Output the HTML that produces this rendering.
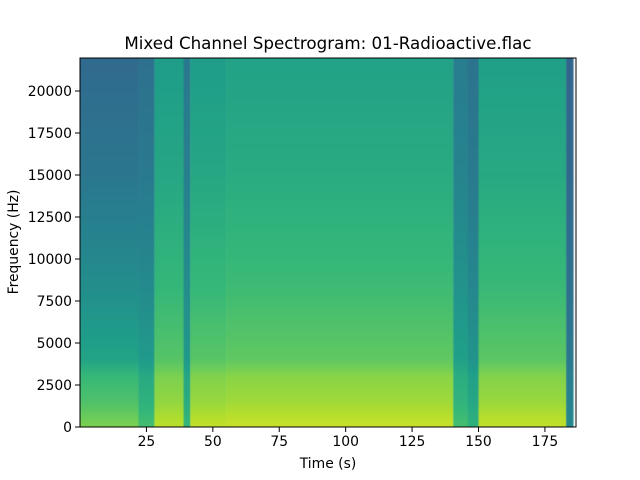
<!DOCTYPE html>
<html><head><meta charset="utf-8"><style>
body{margin:0;background:#fff;}
#wrap{position:relative;width:640px;height:480px;font-family:"DejaVu Sans","Liberation Sans",sans-serif;color:#000;}
canvas{position:absolute;left:80px;top:58px;}
svg{position:absolute;left:0;top:0;}
</style></head><body>
<div id="wrap">
<canvas id="spec" width="496" height="369"></canvas>
<svg id="ax" width="640" height="480"></svg>
</div>
<script>
// time segment data: start time (s), top-frequency level, low-frequency level (viridis 0..1)
const segStart = [0, 22, 28, 39, 41.5, 55, 140.5, 146, 150, 183, 185.6];
const segTop   = [0.34, 0.37, 0.55, 0.40, 0.55, 0.57, 0.42, 0.38, 0.56, 0.32, 0.32];
const segLow   = [0.80, 0.70, 0.90, 0.66, 0.91, 0.92, 0.70, 0.64, 0.91, 0.47, 0.47];
const profFreq = [0, 500, 1500, 3000, 4000, 8000, 15000, 22050];
const profW    = [1, 0.95, 0.82, 0.72, 0.52, 0.34, 0.12, 0];
const xTicks = [25, 50, 75, 100, 125, 150, 175];
const yTicks = [0, 2500, 5000, 7500, 10000, 12500, 15000, 17500, 20000];

const L=80,T=58,W=496,H=369, tMax=186.7, fMax=21964, tEnd=185.6;
const xs=t=>L+t/tMax*W, ys=f=>T+H-f/fMax*H;
const vir=[[68,1,84],[72,40,120],[62,74,137],[49,104,142],[38,130,142],[31,158,137],[53,183,121],[109,205,89],[180,222,44],[253,231,37]];
function cmap(v){v=Math.max(0,Math.min(1,v));const p=v*9,i=Math.min(8,Math.floor(p)),r=p-i;const a=vir[i],b=vir[i+1];return `rgb(${a.map((c,k)=>Math.round(c+(b[k]-c)*r)).join(',')})`;}
function prof(f){for(let i=0;i<profFreq.length-1;i++){if(f<=profFreq[i+1]){const r=(f-profFreq[i])/(profFreq[i+1]-profFreq[i]);return profW[i]+(profW[i+1]-profW[i])*r;}}return 0;}
const ctx=document.getElementById('spec').getContext('2d');
ctx.fillStyle='#fff';ctx.fillRect(0,0,W,H);
for(let s=0;s<segStart.length-1;s++){
  const x0=xs(segStart[s])-L,x1=xs(Math.min(segStart[s+1],tEnd))-L;
  for(let py=0;py<H;py+=2){
    const f=(H-py-1)/H*fMax, w=prof(f);
    ctx.fillStyle=cmap(segTop[s]+(segLow[s]-segTop[s])*w);
    ctx.fillRect(x0,py,x1-x0+0.5,2);
  }
}
const svg=document.getElementById('ax'),NS='http://www.w3.org/2000/svg';
function el(tag,attrs,txt){const e=document.createElementNS(NS,tag);for(const k in attrs)e.setAttribute(k,attrs[k]);if(txt!==undefined)e.textContent=txt;svg.appendChild(e);return e;}
const frame=el('rect',{x:L,y:T,width:W,height:H,fill:'none',stroke:'#000','stroke-width':1});


xTicks.forEach(t=>{const x=xs(t);
 const tk=el('line',{x1:x,x2:x,y1:T+H,y2:T+H+5,stroke:'#000'});
 
 
 const lb=el('text',{x:x,y:T+H+19,'font-size':13.9,'text-anchor':'middle'},String(t));
 
 });
yTicks.forEach(f=>{const y=ys(f);
 const tk=el('line',{x1:L-5,x2:L,y1:y,y2:y,stroke:'#000'});
 
 
 const lb=el('text',{x:L-8,y:y+5,'font-size':13.9,'text-anchor':'end'},String(f));
 
 });
const ti=el('text',{x:328,y:49,'font-size':16.7,'text-anchor':'middle'},'Mixed Channel Spectrogram: 01-Radioactive.flac');


const xt=el('text',{x:328,y:468,'font-size':13.9,'text-anchor':'middle'},'Time (s)');


const yt=el('text',{x:18,y:242,'font-size':13.9,'text-anchor':'middle',transform:'rotate(-90 18 242)'},'Frequency (Hz)');


</script>
</body></html>
